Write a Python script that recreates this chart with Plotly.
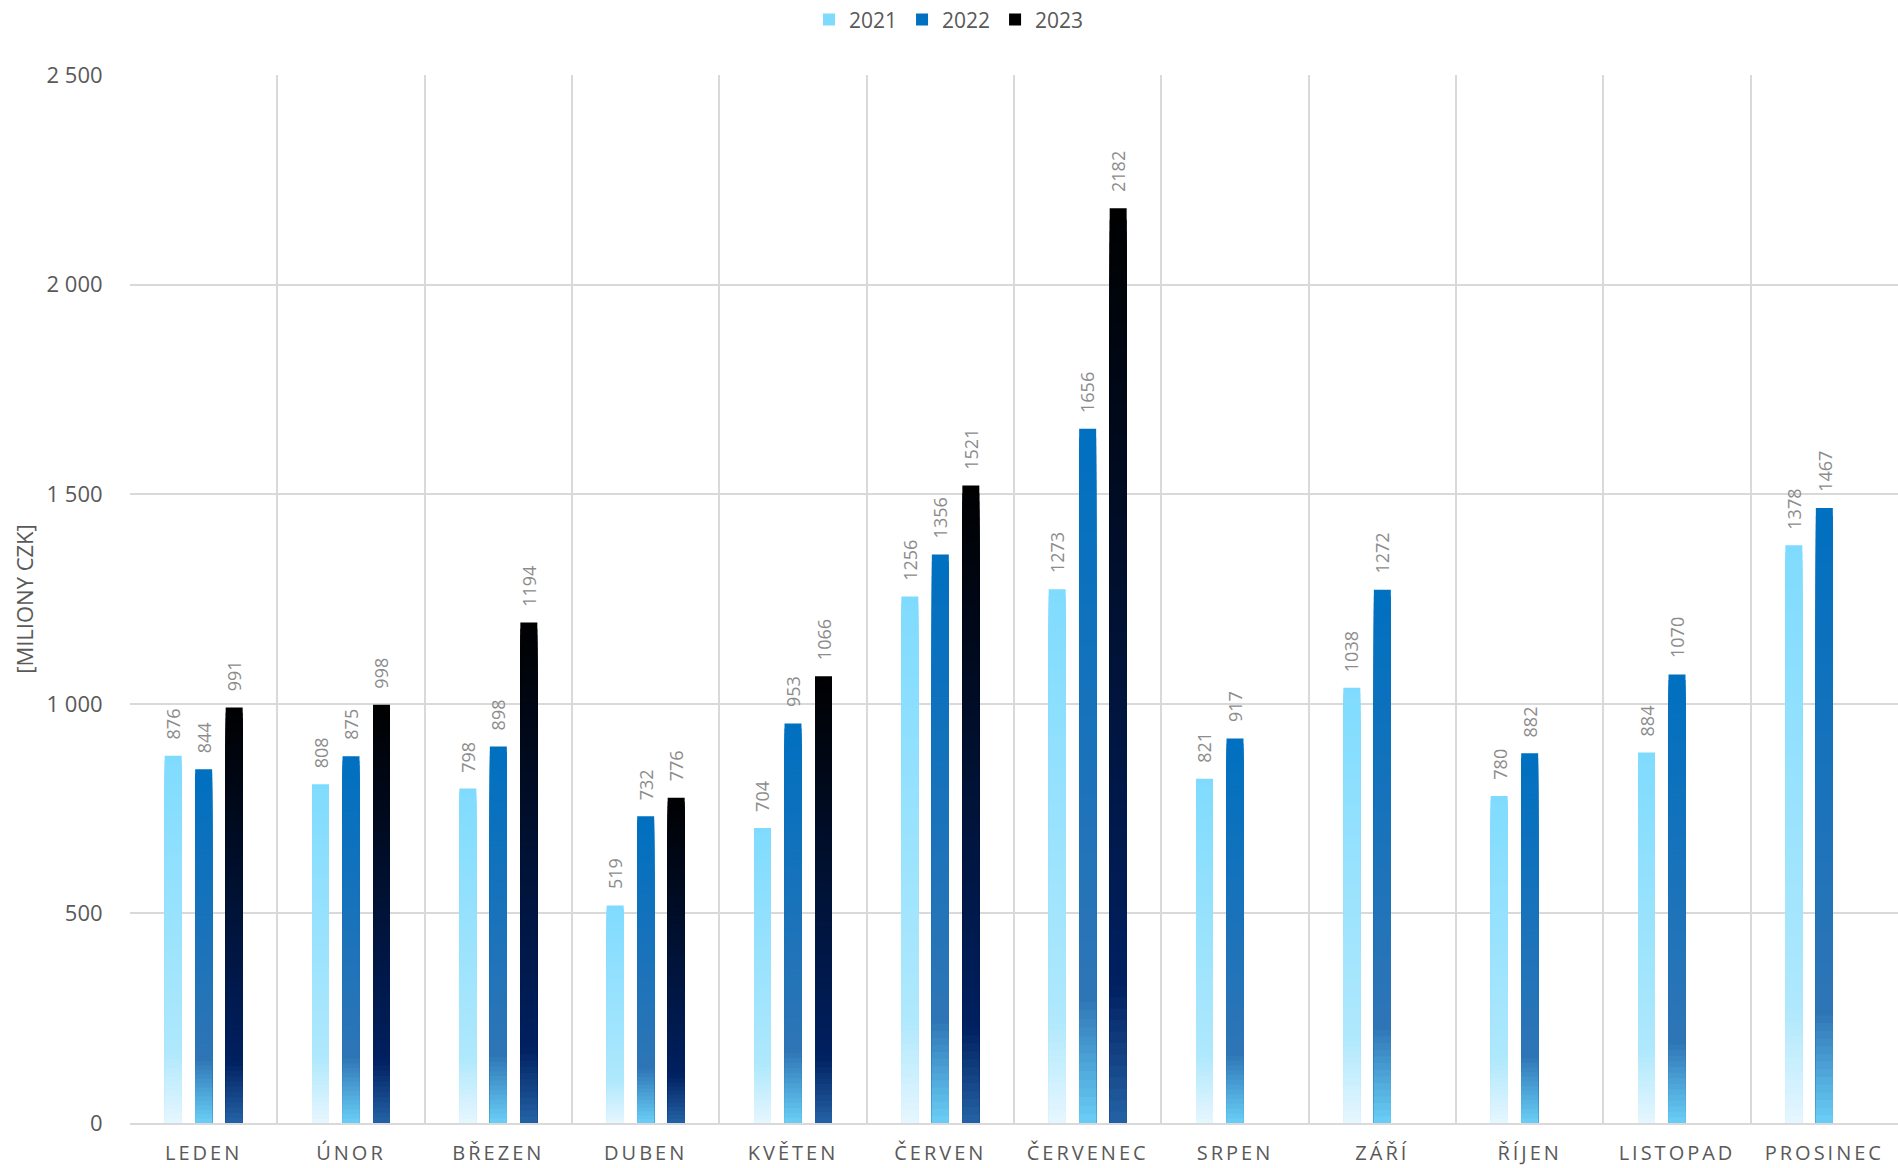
import plotly.graph_objects as go

months = ["LEDEN", "ÚNOR", "BŘEZEN", "DUBEN", "KVĚTEN", "ČERVEN",
          "ČERVENEC", "SRPEN", "ZÁŘÍ", "ŘÍJEN", "LISTOPAD", "PROSINEC"]
years = ["2021", "2022", "2023"]
v2021 = [876, 808, 798, 519, 704, 1256, 1273, 821, 1038, 780, 884, 1378]
v2022 = [844, 875, 898, 732, 953, 1356, 1656, 917, 1272, 882, 1070, 1467]
v2023 = [991, 998, 1194, 776, 1066, 1521, 2182, None, None, None, None, None]
y_ticks = [0, 500, 1000, 1500, 2000, 2500]

# gradient stops (fraction of bar height from bottom, colour)
stops2021 = [(0.0, "#E6F6FE"), (0.2, "#AEE8FD"), (1.0, "#7FDBFE")]
stops2022 = [(0.0, "#6ACFF6"), (0.18, "#2E75B6"), (1.0, "#0070C0")]
stops2023 = [(0.0, "#2563A6"), (0.15, "#002060"), (1.0, "#000000")]

W, H = 1898, 1168
ML, MR, MT, MB = 130, 0, 75, 45
BARGAP, BARGROUPGAP = 0.379, 0.443


def hex2rgb(h):
    h = h.lstrip("#")
    return tuple(int(h[i:i + 2], 16) for i in (0, 2, 4))


def interp(stops, t):
    for (p0, c0), (p1, c1) in zip(stops[:-1], stops[1:]):
        if p0 <= t <= p1:
            a = (t - p0) / (p1 - p0) if p1 > p0 else 0
            r0, r1 = hex2rgb(c0), hex2rgb(c1)
            return "rgb({},{},{})".format(*[round(x0 + (x1 - x0) * a) for x0, x1 in zip(r0, r1)])
    return stops[-1][1]


fig = go.Figure()
N = 80
series = [(years[0], v2021, stops2021), (years[1], v2022, stops2022), (years[2], v2023, stops2023)]
slot = (W - ML - MR) / len(months) * (1 - BARGAP) / len(series)
annotations = []
for si, (name, vals, stops) in enumerate(series):
    for k in range(N):
        frac = 1 - k / N
        color = interp(stops, frac - 0.5 / N)
        fig.add_bar(
            x=months,
            y=[v * frac if v is not None else None for v in vals],
            offsetgroup=name, legendgroup=name, name=name,
            showlegend=(k == 0),
            marker=dict(color=color, line=dict(width=0)),
            hoverinfo="skip",
        )
    fig.add_bar(
        x=months, y=vals, offsetgroup=name, legendgroup=name, name=name,
        showlegend=False,
        marker=dict(color="rgba(0,0,0,0)", line=dict(width=0)),
        hovertemplate="%{x}: %{y}<extra>" + name + "</extra>",
    )
    for m, v in zip(months, vals):
        if v is None:
            continue
        annotations.append(dict(
            x=m, y=v, xref="x", yref="y", text=str(v), showarrow=False,
            textangle=-90, xanchor="center", yanchor="bottom",
            xshift=(si - 1) * slot, yshift=14,
            font=dict(size=18, color="#8C8C8C", family="Open Sans"),
        ))

fig.update_layout(
    width=W, height=H,
    margin=dict(l=ML, r=MR, t=MT, b=MB, autoexpand=False),
    plot_bgcolor="white", paper_bgcolor="white",
    barmode="group", bargap=BARGAP, bargroupgap=BARGROUPGAP,
    separators=", ",
    font=dict(family="Open Sans", color="#595959"),
    legend=dict(orientation="h", xref="container", yref="container",
                x=0.5, y=0.983, xanchor="center", yanchor="middle",
                font=dict(size=21, color="#595959"), traceorder="normal"),
    annotations=annotations,
)
fig.update_xaxes(
    type="category", showgrid=True, gridcolor="#D9D9D9", gridwidth=1.5,
    tickson="boundaries", ticks="", ticklabelstandoff=11,
    tickfont=dict(size=20, color="#595959"),
    showline=True, linecolor="#D9D9D9", linewidth=2, automargin=False,
)
fig.update_yaxes(
    range=[0, 2500], tickvals=y_ticks, tickformat=",d",
    showgrid=True, gridcolor="#D9D9D9", gridwidth=1.5, zeroline=False,
    ticks="outside", ticklen=22, tickcolor="rgba(0,0,0,0)",
    tickfont=dict(size=22, color="#595959"),
    title=dict(text="[MILIONY CZK]", font=dict(size=22, color="#595959"), standoff=6),
    automargin=False,
)

post = (
    "document.body.style.margin='0px';document.body.style.overflow='hidden';"
    "document.querySelectorAll('.xtick text').forEach(function(t){t.style.letterSpacing='3px';});"
)
fig.write_html("out.html", post_script=post, config={"displayModeBar": False})
